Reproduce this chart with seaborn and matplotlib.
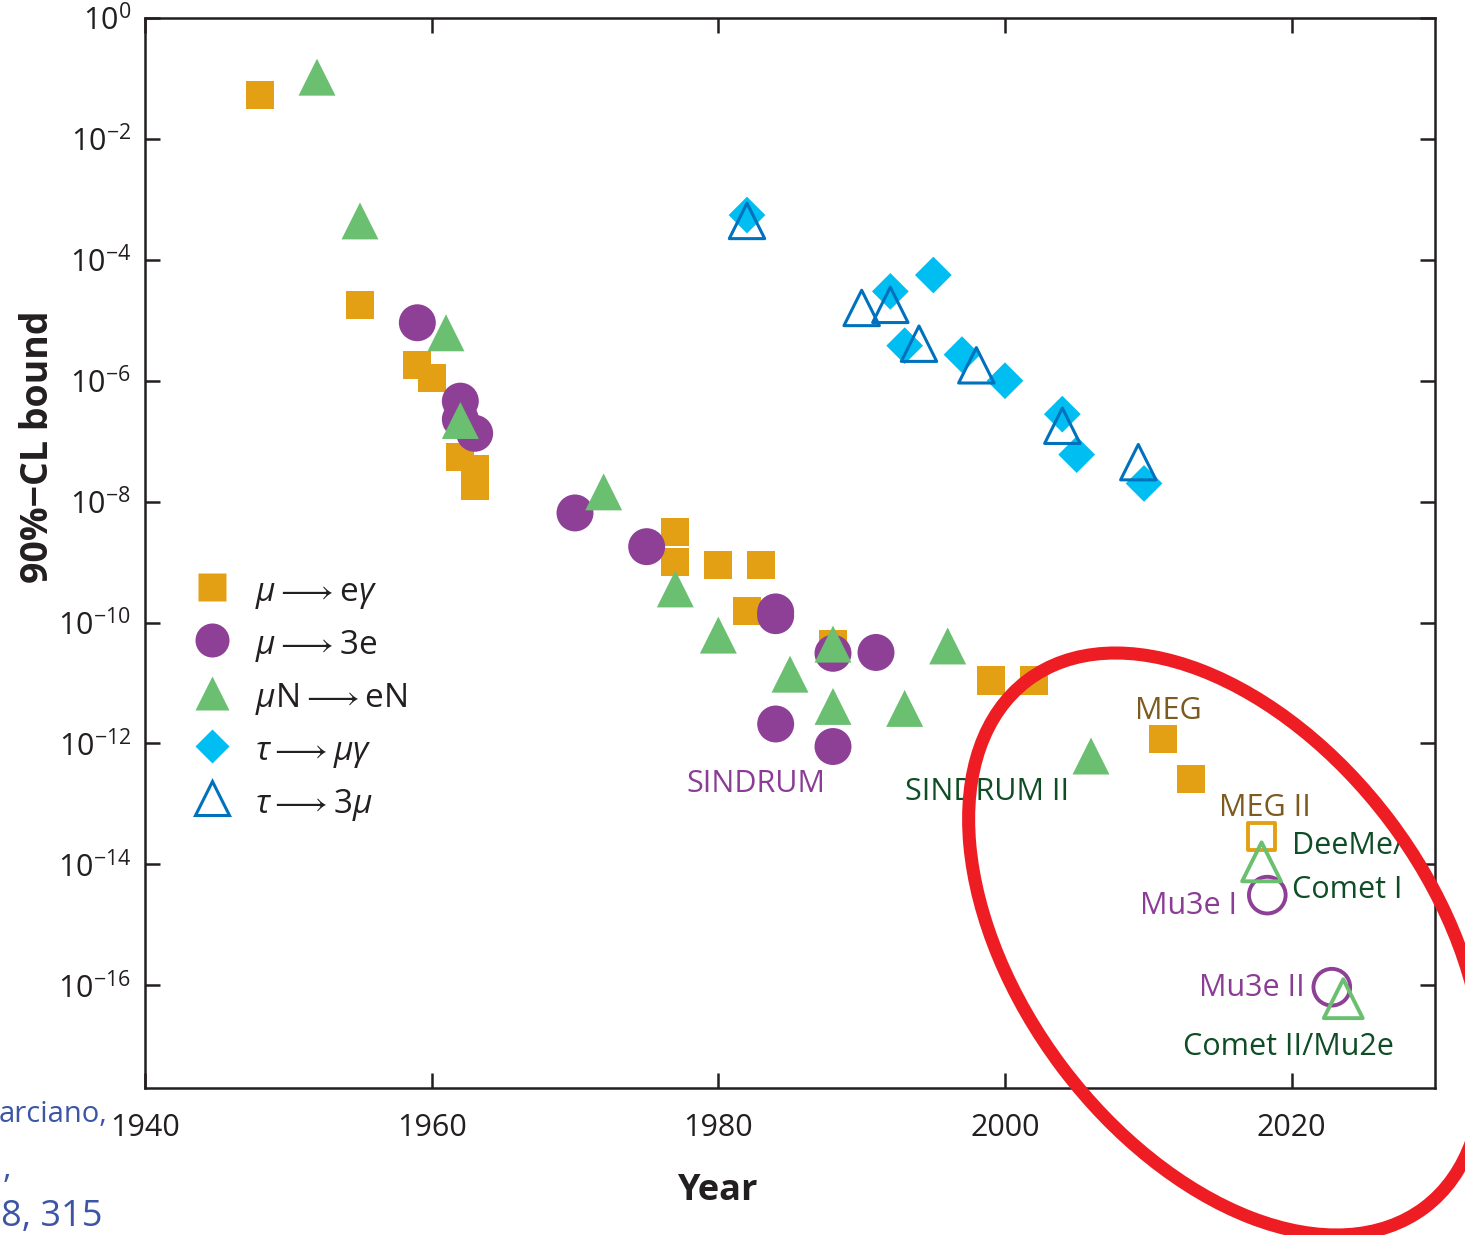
import matplotlib
matplotlib.use("Agg")

import numpy as np
import pandas as pd

import matplotlib.pyplot as plt
import seaborn as sns

from matplotlib.lines import Line2D
from matplotlib.patches import Ellipse

# ==========================================
# DATA
# ==========================================

mu_eg_year = [1948, 1955, 1959, 1960, 1962, 1963, 1963, 1977, 1977,
              1980, 1982, 1983, 1988, 1999, 2002, 2011, 2013]
mu_eg_bound = [5.4e-2, 1.8e-5, 1.8e-6, 1.1e-6, 5.4e-8, 3.5e-8, 1.8e-8,
               3.2e-9, 1.0e-9, 9.0e-10, 1.55e-10, 9.0e-10, 4.4e-11,
               1.1e-11, 1.1e-11, 1.2e-12, 2.6e-13]

mu_3e_year = [1959, 1962, 1962, 1963, 1970, 1975, 1984, 1984, 1988,
              1991, 1984, 1988]
mu_3e_bound = [9.1e-6, 4.6e-7, 2.3e-7, 1.35e-7, 6.5e-9, 1.8e-9, 1.5e-10,
               1.3e-10, 3.1e-11, 3.2e-11, 2.1e-12, 8.9e-13]

mu_eN_year = [1952, 1955, 1961, 1962, 1972, 1977, 1980, 1988, 1985,
              1988, 1993, 1996, 2006]
mu_eN_bound = [1.05e-1, 4.4e-4, 6.2e-6, 2.2e-7, 1.45e-8, 3.6e-10, 6.2e-11,
               4.4e-11, 1.4e-11, 4.1e-12, 3.8e-12, 4.1e-11, 6.2e-13]

tau_mg_year = [1982, 1992, 1995, 1993, 1997, 2000, 2004, 2005, 2009.7]
tau_mg_bound = [5.5e-4, 3.0e-5, 5.6e-5, 3.8e-6, 2.7e-6, 1.0e-6, 2.8e-7,
                6.0e-8, 2.0e-8]

tau_3mu_year = [1982, 1990, 1992, 1994, 1998, 2004, 2009.3]
tau_3mu_bound = [4.4e-4, 1.6e-5, 1.8e-5, 4.1e-6, 1.8e-6, 1.8e-7, 4.5e-8]

# planned experiments (open markers)
meg2_year = [2017.9]
meg2_bound = [2.9e-14]

conv_future_year = [2017.9, 2023.6]
conv_future_bound = [1.1e-14, 6.0e-17]

mu3e_future_year = [2018.3, 2022.8]
mu3e_future_bound = [3.1e-15, 9.3e-17]

legend_labels = [
    r"$\mu \longrightarrow \mathrm{e}\gamma$",
    r"$\mu \longrightarrow 3\mathrm{e}$",
    r"$\mu\mathrm{N} \longrightarrow \mathrm{eN}$",
    r"$\tau \longrightarrow \mu\gamma$",
    r"$\tau \longrightarrow 3\mu$",
]

x_ticks = [1940, 1960, 1980, 2000, 2020]
y_ticks = [1e0, 1e-2, 1e-4, 1e-6, 1e-8, 1e-10, 1e-12, 1e-14, 1e-16]
y_tick_labels = [r"$10^{0}$", r"$10^{-2}$", r"$10^{-4}$", r"$10^{-6}$",
                 r"$10^{-8}$", r"$10^{-10}$", r"$10^{-12}$", r"$10^{-14}$",
                 r"$10^{-16}$"]

# experiment labels: text, year, bound (baseline), colour
PURPLE_TXT = "#8B3D96"
GREEN_TXT = "#0E4D25"
BROWN_TXT = "#7D5A1F"

notes = [
    ("SINDRUM", 1977.8, 1.55e-13, PURPLE_TXT),
    ("SINDRUM II", 1993.0, 1.15e-13, GREEN_TXT),
    ("MEG", 2009.1, 2.5e-12, BROWN_TXT),
    ("MEG II", 2014.95, 6.2e-14, BROWN_TXT),
    ("DeeMe/", 2020.0, 1.5e-14, GREEN_TXT),
    ("Comet I", 2020.0, 2.8e-15, GREEN_TXT),
    ("Mu3e I", 2009.4, 1.5e-15, PURPLE_TXT),
    ("Mu3e II", 2013.55, 6.6e-17, PURPLE_TXT),
    ("Comet II/Mu2e", 2012.4, 6.9e-18, GREEN_TXT),
]

ORANGE = "#E3A014"
PURPLE = "#8E3F96"
GREEN = "#6ABF70"
CYAN = "#00BDF2"
BLUE = "#0071BC"
INK = "#231F20"

# ==========================================
# STYLE
# ==========================================

sns.set_style("ticks")

plt.rcParams["font.family"] = ["Open Sans", "DejaVu Sans"]
plt.rcParams["mathtext.fontset"] = "custom"
plt.rcParams["mathtext.rm"] = "Open Sans"
plt.rcParams["mathtext.it"] = "Open Sans:italic"
plt.rcParams["mathtext.bf"] = "Open Sans:bold"
plt.rcParams["text.color"] = INK

fig = plt.figure(figsize=(14.65, 12.35), dpi=100)

ax = fig.add_axes([145 / 1465, 1 - 1088 / 1235, 1290 / 1465, 1070 / 1235])


def draw(years, bounds, marker, size, color, filled=True, lw=0.0, z=3):

    df = pd.DataFrame({"year": years, "bound": bounds})

    if filled:
        sns.scatterplot(
            data=df, x="year", y="bound", ax=ax,
            marker=marker, s=size ** 2, color=color,
            edgecolor="none", linewidth=0, zorder=z
        )
    else:
        sns.scatterplot(
            data=df, x="year", y="bound", ax=ax,
            marker=marker, s=size ** 2, color=color,
            facecolor="none", edgecolor=color, linewidth=lw, zorder=z
        )


draw(mu_eg_year, mu_eg_bound, "s", 20.2, ORANGE, z=3)
draw(mu_3e_year, mu_3e_bound, "o", 26.6, PURPLE, z=4)
draw(mu_eN_year, mu_eN_bound, "^", 26.6, GREEN, z=5)
draw(tau_mg_year, tau_mg_bound, "D", 18.7, CYAN, z=3)
draw(tau_3mu_year, tau_3mu_bound, "^", 25.5, BLUE, filled=False, lw=2.2, z=4)

draw(meg2_year, meg2_bound, "s", 19.7, ORANGE, filled=False, lw=2.8, z=3)
draw(conv_future_year, conv_future_bound, "^", 28, GREEN,
     filled=False, lw=2.8, z=5)
draw(mu3e_future_year, mu3e_future_bound, "o", 26.4, PURPLE,
     filled=False, lw=2.8, z=4)

# ==========================================
# AXES
# ==========================================

ax.set_yscale("log")
ax.set_xlim(1940, 2030)
ax.set_ylim(2.0e-18, 1.0)

ax.set_xticks(x_ticks)
ax.set_xticklabels([str(t) for t in x_ticks])
ax.set_yticks(y_ticks)
ax.set_yticklabels(y_tick_labels)
ax.yaxis.set_minor_locator(matplotlib.ticker.NullLocator())

ax.tick_params(
    axis="both", which="major", direction="in",
    length=11, width=1.8, top=True, right=True,
    labelsize=22, color=INK, labelcolor=INK
)
ax.tick_params(axis="x", pad=18)
ax.tick_params(axis="y", pad=10)

for side in ax.spines.values():
    side.set_linewidth(1.8)
    side.set_color(INK)
    side.set_visible(True)

ax.set_xlabel("Year", fontsize=26, fontweight="bold", color=INK)
ax.xaxis.set_label_coords(0.444, -0.079)

ax.set_ylabel("90%\u2212CL bound", fontsize=27, fontweight="bold", color=INK)
ax.yaxis.set_label_coords(-0.068, 0.599)

# ==========================================
# LEGEND
# ==========================================

handles = [
    Line2D([], [], ls="none", marker="s", ms=20, mfc=ORANGE, mec="none"),
    Line2D([], [], ls="none", marker="o", ms=24.5, mfc=PURPLE, mec="none"),
    Line2D([], [], ls="none", marker="^", ms=24.5, mfc=GREEN, mec="none"),
    Line2D([], [], ls="none", marker="D", ms=17.5, mfc=CYAN, mec="none"),
    Line2D([], [], ls="none", marker="^", ms=24, mfc="none", mec=BLUE,
           mew=2.2),
]

ax.legend(
    handles, legend_labels,
    loc="upper left", bbox_to_anchor=(0.0326, 0.4814),
    frameon=False, borderaxespad=0, borderpad=0,
    handlelength=1.5, handleheight=1.2, handletextpad=0.54,
    labelspacing=0.435, prop={"size": 24}
)

# ==========================================
# EXPERIMENT LABELS
# ==========================================

for text, yr, bnd, col in notes:
    ax.text(yr, bnd, text, color=col, fontsize=22,
            ha="left", va="baseline", zorder=6)

# ==========================================
# HIGHLIGHT RING AND CUT-OFF CITATION
# ==========================================

ring = Ellipse(
    (12.26, 2.91), 6.60, 4.10, angle=-53,
    transform=fig.dpi_scale_trans,
    fill=False, edgecolor="#EE1D23", linewidth=9.4, zorder=10
)
fig.add_artist(ring)

CITE = "#3C55A5"
fig.text(-0.001, 1 - 1122 / 1235, "arciano,", color=CITE, fontsize=21,
         ha="left", va="baseline")
fig.text(0.002, 1 - 1178 / 1235, ",", color=CITE, fontsize=24,
         ha="left", va="baseline")
fig.text(0.001, 1 - 1226 / 1235, "8, 315", color=CITE, fontsize=26,
         ha="left", va="baseline")

plt.savefig("out.png", dpi=100)

plt.close()
